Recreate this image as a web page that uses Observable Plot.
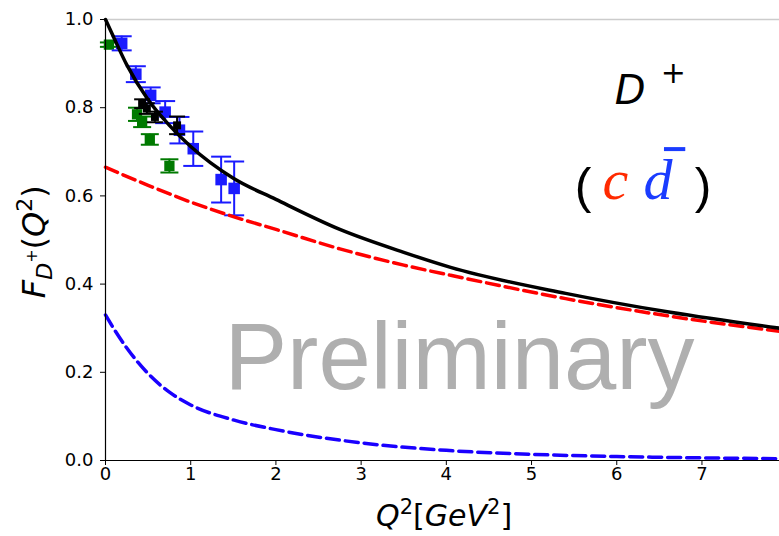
<!DOCTYPE html>
<html><head><meta charset="utf-8">
<script src="https://cdn.jsdelivr.net/npm/d3@7"></script>
<script src="https://cdn.jsdelivr.net/npm/@observablehq/plot@0.6"></script>
<style>html,body{margin:0;padding:0;background:#fff} svg{display:block}</style>
</head><body><div id="chart"></div>
<script>
// ---- data ----
const xTicks = [0, 1, 2, 3, 4, 5, 6, 7];
const yTicks = [0.0, 0.2, 0.4, 0.6, 0.8, 1.0];

// total form factor (solid black)
const totalQ2 = [0, 0.1, 0.25, 0.5, 0.75, 1.0, 1.5, 2.0, 2.75, 3.5, 4.05, 5.4, 6.63, 7.91];
const totalF  = [1.0, 0.958, 0.897, 0.818, 0.760, 0.712, 0.640, 0.592, 0.524, 0.472, 0.438, 0.379, 0.336, 0.300];
// charm-quark contribution (red dashed)
const charmQ2 = [0, 0.5, 1.0, 1.5, 2.0, 2.75, 3.5, 4.05, 5.4, 6.63, 7.91];
const charmF  = [0.665, 0.624, 0.586, 0.553, 0.524, 0.480, 0.443, 0.420, 0.367, 0.327, 0.293];
// anti-down contribution (blue dashed)
const dbarQ2 = [0, 0.1, 0.25, 0.5, 0.75, 1.0, 1.5, 2.0, 3.0, 4.0, 5.0, 6.0, 7.0, 7.91];
const dbarF  = [0.330, 0.298, 0.255, 0.197, 0.155, 0.126, 0.092, 0.070, 0.040, 0.023, 0.014, 0.009, 0.006, 0.004];

// data points
const blueQ2  = [0.19, 0.356, 0.53, 0.70, 0.868, 1.03, 1.357, 1.51];
const blueF   = [0.946, 0.876, 0.828, 0.790, 0.749, 0.707, 0.637, 0.617];
const blueErr = [0.016, 0.018, 0.018, 0.025, 0.030, 0.039, 0.052, 0.061];

const greenQ2  = [0.04, 0.37, 0.43, 0.52, 0.75];
const greenF   = [0.943, 0.785, 0.768, 0.728, 0.668];
const greenErr = [0.005, 0.015, 0.012, 0.012, 0.015];

const blackQ2  = [0.43, 0.485, 0.58, 0.84];
const blackF   = [0.809, 0.798, 0.779, 0.760];
const blackErr = [0.010, 0.012, 0.012, 0.020];

// ---- build tables ----
const curve = (qs, fs) => qs.map((q, i) => ({q, f: fs[i]}));
const pts = (qs, fs, es) => qs.map((q, i) => ({q, f: fs[i], e: es[i]}));
const totalLine = curve(totalQ2, totalF);
const charmLine = curve(charmQ2, charmF);
const dbarLine = curve(dbarQ2, dbarF);
const bluePts = pts(blueQ2, blueF, blueErr);
const greenPts = pts(greenQ2, greenF, greenErr);
const blackPts = pts(blackQ2, blackF, blackErr);

const capSymbol = {draw(ctx, size) { const r = Math.sqrt(size / Math.PI); ctx.moveTo(-r, 0); ctx.lineTo(r, 0); }};

const BLUE = "#1a1aff", GREEN = "#007a00", RED = "#ff0000", DBLUE = "#1a00ff";

function errMarks(data, color, cap, sq) {
  return [
    Plot.ruleX(data, {x: "q", y1: d => d.f - d.e, y2: d => d.f + d.e, stroke: color, strokeWidth: 2}),
    Plot.dot(data, {x: "q", y: d => d.f + d.e, symbol: capSymbol, r: cap, stroke: color, strokeWidth: 2, fill: "none"}),
    Plot.dot(data, {x: "q", y: d => d.f - d.e, symbol: capSymbol, r: cap, stroke: color, strokeWidth: 2, fill: "none"}),
    Plot.dot(data, {x: "q", y: "f", symbol: "square", r: sq, fill: color, stroke: "none"})
  ];
}

const plot = Plot.plot({
  width: 779, height: 536,
  marginLeft: 105, marginRight: 0, marginTop: 19, marginBottom: 76,
  x: {domain: [0, 7.91], label: null},
  y: {domain: [0, 1], label: null},
  style: {fontFamily: "DejaVu Sans", fontSize: "18px", color: "black", background: "white", overflow: "visible"},
  marks: [
    Plot.ruleY([1], {stroke: "#cccccc", strokeWidth: 1.5}),
    ...errMarks(greenPts, GREEN, 9, 5.8),
    ...errMarks(bluePts, BLUE, 10, 6.5),
    ...errMarks(blackPts, "black", 8, 4.5),
    Plot.line(charmLine, {x: "q", y: "f", stroke: RED, strokeWidth: 3.5, strokeDasharray: "13,6", curve: "monotone-x"}),
    Plot.line(dbarLine, {x: "q", y: "f", stroke: DBLUE, strokeWidth: 3.5, strokeDasharray: "13,6", curve: "monotone-x"}),
    Plot.line(totalLine, {x: "q", y: "f", stroke: "black", strokeWidth: 3.5, curve: "monotone-x"}),
    Plot.ruleX([0], {stroke: "black", strokeWidth: 1.2}),
    Plot.ruleY([0], {stroke: "black", strokeWidth: 1.2}),
    Plot.axisX({ticks: xTicks, tickFormat: d => String(d), tickSize: 5, tickPadding: 2, fontSize: 18, label: null}),
    Plot.axisY({ticks: yTicks, tickFormat: d3.format(".1f"), tickSize: 5, tickPadding: 7, fontSize: 18, label: null})
  ]
});

document.getElementById("chart").append(plot);

// ---- annotations ----
const svg = d3.select(plot);
const sx = plot.scale("x"), sy = plot.scale("y");

// watermark
svg.append("text")
  .attr("x", sx.apply(4.16)).attr("y", sy.apply(0.161))
  .attr("text-anchor", "middle")
  .attr("font-family", "Liberation Sans, Arial, sans-serif")
  .attr("font-size", 94).attr("fill", "#afafaf")
  .text("Preliminary");

// D+ label
const dlab = svg.append("text")
  .attr("x", sx.apply(6.40)).attr("y", sy.apply(0.807))
  .attr("font-family", "DejaVu Sans, sans-serif")
  .attr("font-size", 40);
dlab.append("tspan").attr("font-style", "italic").text("D");
dlab.append("tspan").attr("dx", 15).attr("dy", -21).attr("font-size", 30).text("+");

// ( c dbar )
const base = sy.apply(0.592);
svg.append("text").attr("x", sx.apply(5.61)).attr("y", base + 4)
  .attr("font-family", "Liberation Sans, Arial, sans-serif").attr("font-size", 50).text("(");
svg.append("text").attr("x", sx.apply(5.99)).attr("y", base)
  .attr("font-family", "Liberation Serif, Times New Roman, serif").attr("font-style", "italic")
  .attr("font-size", 58).attr("fill", "#ff2a00").text("c");
svg.append("text").attr("x", sx.apply(6.49)).attr("y", base)
  .attr("font-family", "Liberation Serif, Times New Roman, serif").attr("font-style", "italic")
  .attr("font-size", 58).attr("fill", "#1a3cff").text("d");
// overbar of the anti-quark
svg.append("line")
  .attr("x1", sx.apply(6.56)).attr("x2", sx.apply(6.81))
  .attr("y1", sy.apply(0.705)).attr("y2", sy.apply(0.705))
  .attr("stroke", "#1a3cff").attr("stroke-width", 4);
svg.append("text").attr("x", sx.apply(7.02)).attr("y", base + 4)
  .attr("font-family", "Liberation Sans, Arial, sans-serif").attr("font-size", 50).text(")");

// y axis label
const yl = svg.append("text")
  .attr("transform", `translate(45,${sy.apply(0.495)}) rotate(-90)`)
  .attr("text-anchor", "middle")
  .attr("font-family", "DejaVu Sans").attr("font-size", 32);
yl.append("tspan").attr("font-style", "italic").text("F");
yl.append("tspan").attr("font-style", "italic").attr("font-size", 22).attr("dy", 7).text("D");
yl.append("tspan").attr("font-size", 16).attr("dy", -15).text("+");
yl.append("tspan").attr("dy", 8).text("(");
yl.append("tspan").attr("font-style", "italic").text("Q");
yl.append("tspan").attr("font-size", 22).attr("dy", -13).text("2");
yl.append("tspan").attr("dy", 13).text(")");

// x axis label
const xl = svg.append("text")
  .attr("x", sx.apply(3.98)).attr("y", 526)
  .attr("text-anchor", "middle")
  .attr("font-family", "DejaVu Sans").attr("font-size", 30);
xl.append("tspan").attr("font-style", "italic").text("Q");
xl.append("tspan").attr("font-size", 21).attr("dy", -12).text("2");
xl.append("tspan").attr("dy", 12).text("[");
xl.append("tspan").attr("font-style", "italic").text("GeV");
xl.append("tspan").attr("font-size", 21).attr("dy", -12).text("2");
xl.append("tspan").attr("dy", 12).text("]");
</script>
</body></html>
